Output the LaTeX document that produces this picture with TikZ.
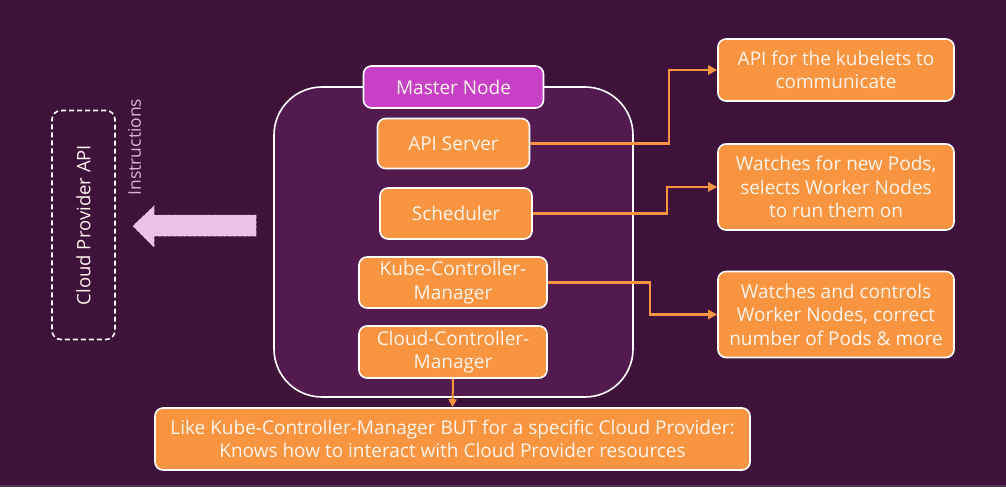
\documentclass[tikz,border=0pt]{standalone}
\usepackage{fontspec}
\setmainfont{Open Sans}
\usetikzlibrary{arrows.meta}
\definecolor{bg}{HTML}{3E123B}
\definecolor{cont}{HTML}{521A4F}
\definecolor{org}{HTML}{F99540}
\definecolor{mag}{HTML}{C840C6}
\definecolor{pinkarr}{HTML}{ECC1EB}
\definecolor{instr}{HTML}{E0AEDE}
\definecolor{txt}{HTML}{FFF4EC}
\tikzset{
  box/.style={draw=white, line width=1.6pt, fill=org, rounded corners=8pt, text=txt, align=center, inner sep=0pt,
    font=\fontsize{19}{23.5}\selectfont},
  conn/.style={draw=org, line width=2.4pt, -{Triangle[length=9pt,width=9pt]}},
}
\begin{document}
\begin{tikzpicture}[x=1pt,y=-1pt]
\fill[bg] (0,0) rectangle (1006,487);
\fill[bg!70!gray] (0,484.5) rectangle (1006,487);
\useasboundingbox (0,0) rectangle (1006,487);
% master container
\node[draw=white, line width=1.6pt, fill=cont, rounded corners=48pt, minimum width=359pt, minimum height=310pt, inner sep=0pt] (master) at (453.5,242) {};
\node[box, fill=mag, minimum width=180pt, minimum height=42pt] (mlabel) at (453.5,87) {Master Node};
\node[box, minimum width=152pt, minimum height=50pt] (api) at (453.5,143.5) {API Server};
\node[box, minimum width=152pt, minimum height=51pt] (sched) at (456,213.5) {Scheduler};
\node[box, minimum width=188pt, minimum height=51pt] (kcm) at (453,282.5) {Kube-Controller-\\Manager};
\node[box, minimum width=188pt, minimum height=52pt] (ccm) at (453,352) {Cloud-Controller-\\Manager};
\node[box, minimum width=595pt, minimum height=62pt] (ccmdesc) at (452.5,439) {Like Kube-Controller-Manager BUT for a specific Cloud Provider:\\Knows how to interact with Cloud Provider resources};
\node[box, minimum width=236pt, minimum height=62pt] (r1) at (836,70) {API for the kubelets to\\communicate};
\node[box, minimum width=236pt, minimum height=86pt] (r2) at (836,187) {Watches for new Pods,\\selects Worker Nodes\\to run them on};
\node[box, minimum width=236pt, minimum height=86pt] (r3) at (836,314.5) {Watches and controls\\Worker Nodes, correct\\number of Pods \& more};
% cloud provider API
\node[draw=white, dashed, dash pattern=on 5pt off 3pt, line width=1.6pt, rounded corners=9pt, minimum width=63pt, minimum height=229pt, inner sep=0pt] (cloud) at (83.5,225) {};
\node[rotate=90, text=txt, font=\fontsize{18.5}{20}\selectfont] (cloudtxt) at (cloud.center) {Cloud Provider API};
\node[rotate=90, text=instr, font=\fontsize{17.5}{20}\selectfont] (instr) at (134.5,147) {Instructions};
% big arrow
\filldraw[fill=pinkarr, draw=pinkarr!80!white, densely dashed, line width=0.5pt]
  (256,215) -- (154,215) -- (154,206) -- (133,226) -- (154,247) -- (154,236) -- (256,236) -- cycle;
% connectors
\coordinate (j1) at (669,0);
\coordinate (j2) at (667,0);
\coordinate (j3) at (650,0);
\draw[conn] (api.east) -- (api.east -| j1) |- (r1.west);
\draw[conn] (sched.east) -- (sched.east -| j2) |- (r2.west);
\draw[conn] (kcm.east) -- (kcm.east -| j3) |- (r3.west);
\draw[conn, line width=2pt, -{Triangle[length=8pt,width=8pt]}] (ccm.south) -- (ccmdesc.north);
\end{tikzpicture}
\end{document}
